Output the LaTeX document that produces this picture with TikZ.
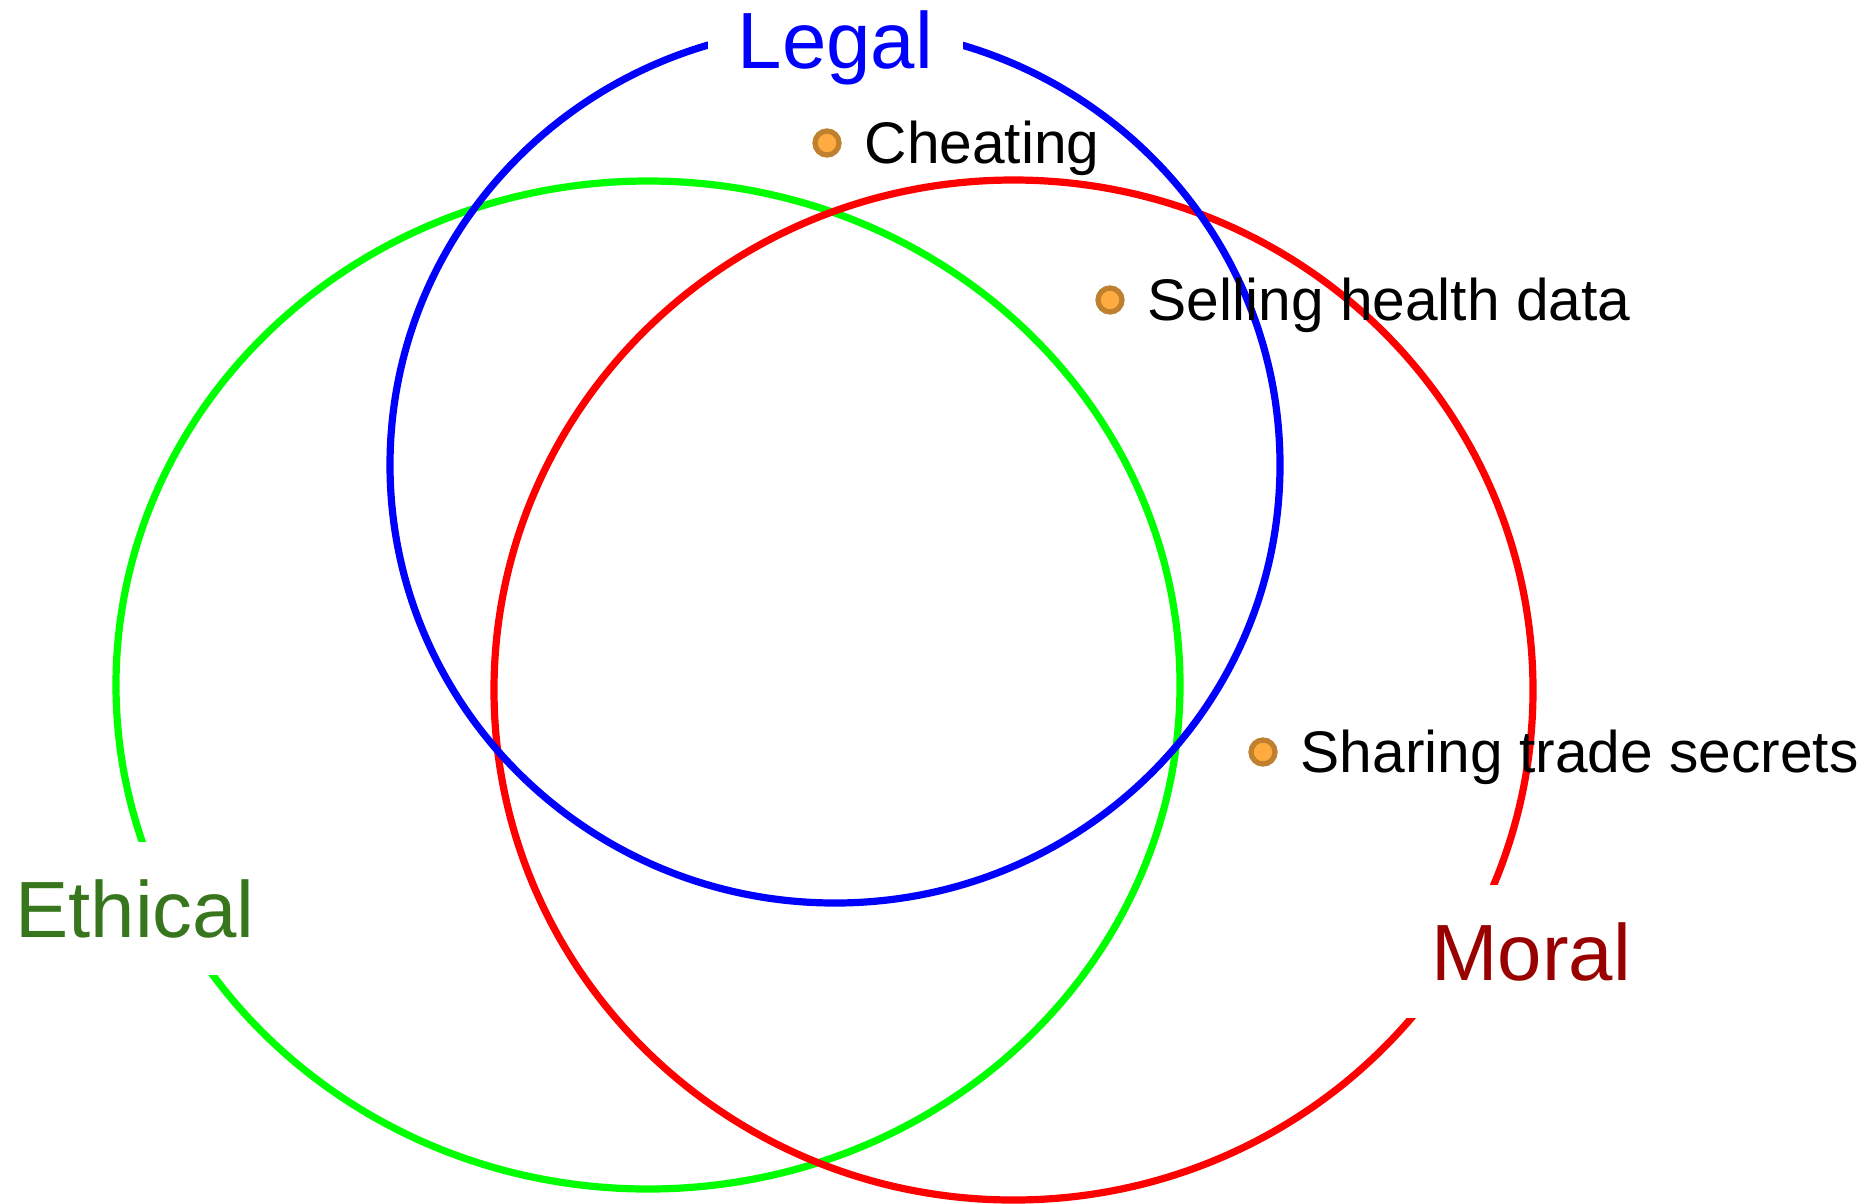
\documentclass[tikz,border=0pt]{standalone}
\usepackage{fontspec}
\setmainfont{Liberation Sans}
\usetikzlibrary{shapes.geometric, positioning}
\definecolor{LegalBlue}{RGB}{0, 0, 255}
\definecolor{EthicalGreen}{RGB}{0, 255, 0}
\definecolor{MoralRed}{RGB}{255, 0, 0}
\definecolor{EthicalText}{HTML}{38761D}
\definecolor{MoralText}{HTML}{990000}
\definecolor{DotFill}{HTML}{FFAB40}
\definecolor{DotEdge}{HTML}{BF8030}
\tikzset{
    ring/.style={ellipse, line width=0.072cm, inner sep=0pt, fill=none},
    setname/.style={fill=white, inner xsep=0.3cm, inner ysep=0.37cm, anchor=base, font=\fontsize{22.7pt}{26pt}\selectfont},
    dot/.style={circle, draw=DotEdge, fill=DotFill, line width=1.5pt, minimum size=0.24cm, inner sep=0pt},
    item/.style={inner sep=0pt, outer sep=0pt, text height=11.9pt, text depth=0pt, font=\fontsize{16.7pt}{19pt}\selectfont}
}

\begin{document}
\begin{tikzpicture}
        \useasboundingbox (0,0) rectangle (18.68,-12.03);

        % the three sets
        \node[ring, draw=EthicalGreen, minimum width=10.64cm, minimum height=10.08cm] (ethical) at (6.48,-6.85) {};
        \node[ring, draw=MoralRed, minimum width=10.39cm, minimum height=10.2cm] (moral) at (10.135,-6.9) {};
        \node[ring, draw=LegalBlue, minimum width=8.9cm, minimum height=8.76cm] (legal) at (8.35,-4.65) {};

        % set names, cut into the rings
        \node[setname, text=LegalBlue] (legalname) at (8.355,-0.68) {Legal};
        \node[setname, text=EthicalText] (ethicalname) at (1.35,-9.37) {Ethical};
        \node[setname, text=MoralText] (moralname) at (15.31,-9.8) {Moral};

        % examples
        \node[dot] (cheat) at (8.27,-1.43) {};
        \node[item, right=0.23cm of cheat] (cheattxt) {Cheating};

        \node[dot] (health) at (11.1,-3.0) {};
        \node[item, right=0.23cm of health] (healthtxt) {Selling health data};

        \node[dot] (secrets) at (12.63,-7.52) {};
        \node[item, right=0.23cm of secrets] (secretstxt) {Sharing trade secrets};
      \end{tikzpicture}
\end{document}
